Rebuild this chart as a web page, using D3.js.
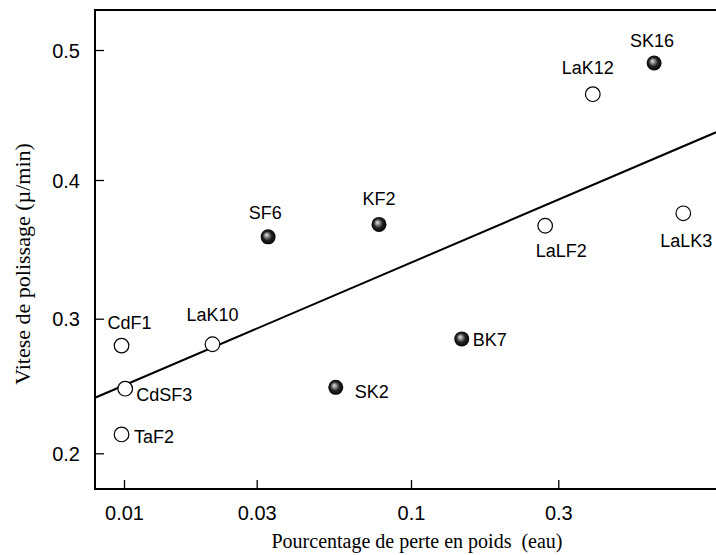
<!DOCTYPE html>
<html>
<head>
<meta charset="utf-8">
<script src="https://cdn.jsdelivr.net/npm/d3@7"></script>
<style>
  html, body { margin: 0; padding: 0; background: #fff; }
  svg { display: block; }
  .title { white-space: pre; }
</style>
</head>
<body>
<div id="chart"></div>
<script>
// ---- data ----
const glassNames = ["CdF1", "CdSF3", "TaF2", "LaK10", "SF6", "SK2", "KF2", "BK7", "LaLF2", "LaK12", "SK16", "LaLK3"];
const weightLoss = [0.0098, 0.0101, 0.0098, 0.0208, 0.0328, 0.0556, 0.0779, 0.146, 0.272, 0.388, 0.613, 0.762];
const polishRate = [0.280, 0.248, 0.214, 0.281, 0.359, 0.249, 0.368, 0.285, 0.367, 0.466, 0.490, 0.376];
const filledMarker = [false, false, false, false, true, true, true, true, false, false, true, false];
const xTickValues = [0.01, 0.03, 0.1, 0.3];
const xTickLabels = ["0.01", "0.03", "0.1", "0.3"];
const yTickValues = [0.2, 0.3, 0.4, 0.5];
const yTickLabels = ["0.2", "0.3", "0.4", "0.5"];
const fitX = [0.00788, 0.973];
const fitY = [0.2413, 0.4367];
const xTitle = "Pourcentage de perte en poids  (eau)";
const yTitle = "Vitese de polissage (µ/min)";

// ---- layout ----
const W = 716, H = 555;
const plotLeft = 95, plotRight = 716, plotTop = 10, plotBottom = 489;

// label placement (offsets from marker centre)
const labelPlace = {
  CdF1:  { dx: -14, dy: -17, anchor: "start" },
  CdSF3: { dx: 11, dy: 12.5, anchor: "start" },
  TaF2:  { dx: 12.5, dy: 8.3, anchor: "start" },
  LaK10: { dx: 0, dy: -23, anchor: "middle" },
  SF6:   { dx: -3, dy: -18, anchor: "middle" },
  SK2:   { dx: 19, dy: 10.7, anchor: "start" },
  KF2:   { dx: 0, dy: -19, anchor: "middle" },
  BK7:   { dx: 11, dy: 7.4, anchor: "start" },
  LaLF2: { dx: 16, dy: 31, anchor: "middle" },
  LaK12: { dx: -5, dy: -20, anchor: "middle" },
  SK16:  { dx: -2, dy: -16, anchor: "middle" },
  LaLK3: { dx: 3, dy: 34, anchor: "middle" }
};

// piecewise scales matching the (slightly irregular) original axes
const x = d3.scaleLog()
  .domain([fitX[0], 0.01, 0.03, 0.1, 0.3])
  .range([plotLeft, 124, 256.7, 411, 558.3]);
const y = d3.scaleLinear()
  .domain([0.2, 0.3, 0.4, 0.5])
  .range([453.3, 318.7, 180, 50]);

const svg = d3.select("#chart").append("svg")
  .attr("width", W).attr("height", H);

const defs = svg.append("defs");
const grad = defs.append("radialGradient")
  .attr("id", "ball").attr("cx", "50%").attr("cy", "50%").attr("r", "55%")
  .attr("fx", "38%").attr("fy", "36%");
grad.append("stop").attr("offset", "0%").attr("stop-color", "#e8e8e8");
grad.append("stop").attr("offset", "22%").attr("stop-color", "#9a9a9a");
grad.append("stop").attr("offset", "55%").attr("stop-color", "#222");
grad.append("stop").attr("offset", "100%").attr("stop-color", "#000");

// axes
const xAxis = d3.axisBottom(x).tickValues(xTickValues)
  .tickFormat((d, i) => xTickLabels[i]).tickSizeInner(-9).tickSizeOuter(0).tickPadding(17);
const yAxis = d3.axisLeft(y).tickValues(yTickValues)
  .tickFormat((d, i) => yTickLabels[i]).tickSizeInner(-9).tickSizeOuter(0).tickPadding(15);

const gx = svg.append("g").attr("transform", `translate(0,${plotBottom})`).call(xAxis);
const gy = svg.append("g").attr("transform", `translate(${plotLeft},0)`).call(yAxis);
[gx, gy].forEach(g => {
  g.select(".domain").remove();
  g.selectAll(".tick line").attr("stroke", "#000").attr("stroke-width", 1.3);
  g.selectAll(".tick text")
    .attr("font-family", "Liberation Sans, Arial, sans-serif")
    .attr("font-size", 20).attr("fill", "#000");
});
gy.selectAll(".tick text").attr("dy", "0.36em");
gx.selectAll(".tick text").attr("dy", "0.71em");

// frame: left, bottom, top
svg.append("path")
  .attr("d", `M${plotRight},${plotTop}H${plotLeft}V${plotBottom}H${plotRight}`)
  .attr("fill", "none").attr("stroke", "#000").attr("stroke-width", 2);

// regression line
svg.append("line")
  .attr("x1", x(fitX[0])).attr("y1", y(fitY[0]))
  .attr("x2", x(fitX[1])).attr("y2", y(fitY[1]))
  .attr("stroke", "#000").attr("stroke-width", 2);

// points
const pts = glassNames.map((n, i) => ({ name: n, xv: weightLoss[i], yv: polishRate[i], filled: filledMarker[i] }));
const gp = svg.append("g");
gp.selectAll("circle").data(pts).enter().append("circle")
  .attr("cx", d => x(d.xv)).attr("cy", d => y(d.yv))
  .attr("r", d => d.filled ? 7.5 : 7.3)
  .attr("fill", d => d.filled ? "url(#ball)" : "#fff")
  .attr("stroke", d => d.filled ? "none" : "#000")
  .attr("stroke-width", 1.2);

gp.selectAll("text").data(pts).enter().append("text")
  .attr("x", d => x(d.xv) + labelPlace[d.name].dx)
  .attr("y", d => y(d.yv) + labelPlace[d.name].dy)
  .attr("text-anchor", d => labelPlace[d.name].anchor)
  .attr("font-family", "Liberation Sans, Arial, sans-serif")
  .attr("font-size", 18).attr("fill", "#000")
  .text(d => d.name);

// axis titles
svg.append("text").attr("class", "title")
  .attr("x", 417).attr("y", 548).attr("text-anchor", "middle")
  .attr("font-family", "Liberation Serif, Times New Roman, serif")
  .attr("font-size", 20).attr("fill", "#000")
  .text(xTitle);
svg.append("text").attr("class", "title")
  .attr("transform", `translate(30,264) rotate(-90)`)
  .attr("text-anchor", "middle")
  .attr("font-family", "Liberation Serif, Times New Roman, serif")
  .attr("font-size", 22).attr("fill", "#000")
  .text(yTitle);
</script>
</body>
</html>
